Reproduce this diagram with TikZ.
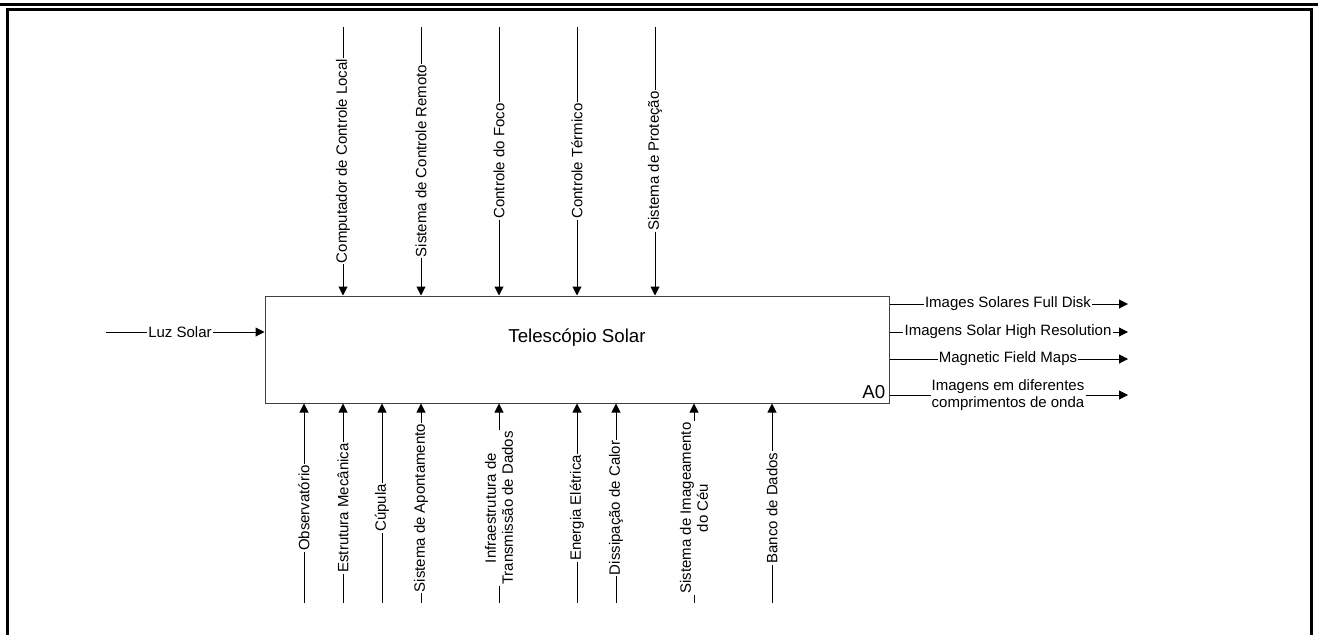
\documentclass[tikz,border=0pt]{standalone}
\usepackage{fontspec}
\setmainfont{Liberation Sans}
\usetikzlibrary{arrows.meta,positioning}
\tikzset{
  framebar/.style={line width=3pt,color=black},
  funcbox/.style={rectangle,draw=black!75,line width=1pt,
                  minimum width=624pt,minimum height=107pt,inner sep=0pt},
  funclbl/.style={font=\fontsize{18.7}{22}\selectfont,inner sep=1pt},
  arrlbl/.style={inner sep=1pt,align=center,font=\fontsize{15}{17}\selectfont},
  vlbl/.style={arrlbl,rotate=90},
  icom/.style={line width=1pt,color=black},
  icomarr/.style={icom,-{Triangle[length=9pt,width=9pt]}}
}

\begin{document}
\begin{tikzpicture}[x=1pt,y=-1pt]
  \useasboundingbox (0,0) rectangle (1318,635);
  % sheet frame
  \draw[framebar] (0,4.5) -- (1318,4.5);
  \draw[framebar] (7.5,635) -- (7.5,9.5) -- (1311.5,9.5) -- (1311.5,635);

  \node[funcbox] (tel) at (577,349.5) {};
  \node[funclbl] (title) at (577,338) {Telescópio Solar};
  \node[funclbl, above left=4pt and 3pt of tel.south east] (idx) {A0};

  % input
  \coordinate (in1) at (106,332);
  \node[arrlbl] (luz) at (180,332) {Luz Solar};
  \draw[icom] (in1) -- (luz);
  \draw[icomarr] (luz) -- (luz -| tel.west);

  % controls
  \foreach \x/\txt [count=\i] in {343/Computador de Controle Local,
      421/Sistema de Controle Remoto, 499/Controle do Foco,
      577/Controle Térmico, 655/Sistema de Proteção}{
    \coordinate (ctltop\i) at (\x,27);
    \node[vlbl] (ctl\i) at (\x,161) {\txt};
    \draw[icom] (ctltop\i) -- (ctl\i);
    \draw[icomarr] (ctl\i) -- (ctl\i |- tel.north);
  }

  % mechanisms
  \foreach \x/\txt [count=\i] in {304/Observatório, 343/Estrutura Mecânica,
      382/Cúpula, 421/Sistema de Apontamento,
      499/{Infraestrutura de\\Transmissão de Dados},
      577/Energia Elétrica, 616/Dissipação de Calor,
      694/{Sistema de Imageamento\\do Céu}, 772/Banco de Dados}{
    \coordinate (mecbot\i) at (\x,603);
    \node[vlbl] (mec\i) at (\x,508) {\txt};
    \draw[icom] (mecbot\i) -- (mec\i);
    \draw[icomarr] (mec\i) -- (mec\i |- tel.south);
  }

  % outputs
  \foreach \y/\txt [count=\i] in {304/Images Solares Full Disk,
      332/Imagens Solar High Resolution, 359/Magnetic Field Maps,
      395/{Imagens em diferentes\\comprimentos de onda}}{
    \node[arrlbl] (out\i) at (1008,\y) {\txt};
    \coordinate (outend\i) at (1128,\y);
    \draw[icom] (out\i -| tel.east) -- (out\i);
    \draw[icomarr] (out\i) -- (outend\i);
  }
\end{tikzpicture}
\end{document}
